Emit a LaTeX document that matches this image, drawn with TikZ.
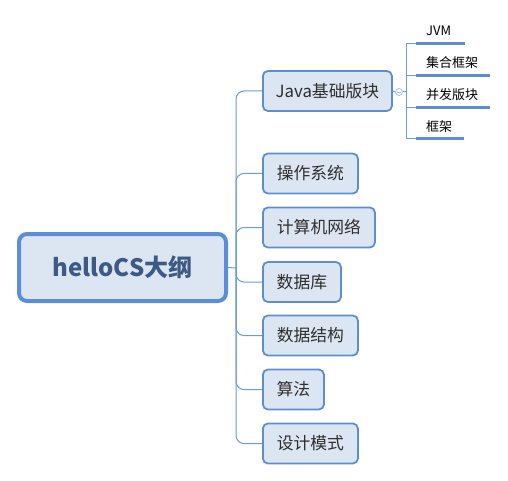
\documentclass[tikz,border=0pt]{standalone}
\usepackage{fontspec}
\usetikzlibrary{calc}
\setmainfont{Noto Sans CJK SC}
\definecolor{bord}{HTML}{5B8ED6}
\definecolor{boxfill}{HTML}{DCE6F2}
\definecolor{linec}{HTML}{6C9BDA}
\definecolor{roottext}{HTML}{3C5A85}
\definecolor{txt}{HTML}{2E2E2E}
\definecolor{knobc}{HTML}{A9C0E6}
\tikzset{
  rootbox/.style={draw=bord, fill=boxfill, line width=4pt, rounded corners=8pt,
    minimum width=207pt, minimum height=67pt, inner sep=0pt,
    font=\fontsize{24}{28}\selectfont\bfseries, text=roottext},
  topicbox/.style={draw=bord, fill=boxfill, line width=1.8pt, rounded corners=5pt,
    minimum height=40pt, inner sep=0pt, anchor=west,
    font=\fontsize{16.8}{19}\selectfont, text=txt},
  branch/.style={draw=linec, line width=1pt, rounded corners=8pt},
  leaftext/.style={anchor=west, inner sep=0pt, font=\fontsize{13}{15}\selectfont, text=black},
  underl/.style={draw=bord, line width=3pt},
  thin/.style={draw=linec, line width=1pt}
}
\begin{document}
\begin{tikzpicture}[x=1pt,y=-1pt]
\useasboundingbox (0,0) rectangle (508,481);
% root
\node[rootbox] (root) at (122.5,267.5) {helloCS大纲};
\coordinate (trunk) at (236,268);
% topics
\node[topicbox, minimum width=129pt] (java) at (262,91) {Java基础版块};
\node[topicbox, minimum width=95pt] (os) at (262,173.5) {操作系统};
\node[topicbox, minimum width=112pt] (net) at (262,227.5) {计算机网络};
\node[topicbox, minimum width=78pt] (db) at (262,282) {数据库};
\node[topicbox, minimum width=95pt] (ds) at (262,335.5) {数据结构};
\node[topicbox, minimum width=61pt] (algo) at (262,389.5) {算法};
\node[topicbox, minimum width=95pt] (dp) at (262,443.5) {设计模式};
% connectors
\draw[thin] (root.east) -- (trunk);
\foreach \n in {java,os,net,db,ds,algo,dp}{
  \draw[branch] (trunk) |- (\n.west);
}
% collapse knob
\node[circle, draw=knobc, fill=white, line width=0.8pt, minimum size=7pt, inner sep=0pt] (knob) at (399,92) {};
\draw[knobc, line width=0.8pt] ($(knob)+(-2,0)$) -- ($(knob)+(2,0)$);
\draw[thin] (java.east) -- (knob.west);
\coordinate (sv) at (406,92);
\draw[thin] (knob.east) -- (sv);
% leaves
\coordinate (u1) at (416,44);
\coordinate (u2) at (416,76);
\coordinate (u3) at (416,108);
\coordinate (u4) at (416,139);
\coordinate (e1) at (465,44);
\coordinate (e2) at (490,76);
\coordinate (e3) at (490,108);
\coordinate (e4) at (464,139);
\draw[thin] (u1 -| sv) -- (u4 -| sv);
\foreach \i in {1,2,3,4}{
  \draw[thin] (u\i -| sv) -- (u\i);
  \draw[underl] (u\i) -- (e\i);
}
\node[leaftext] (l1) at (426,31) {JVM};
\node[leaftext] (l2) at (426,63) {集合框架};
\node[leaftext] (l3) at (426,95) {并发版块};
\node[leaftext] (l4) at (426,126.5) {框架};
\end{tikzpicture}
\end{document}
